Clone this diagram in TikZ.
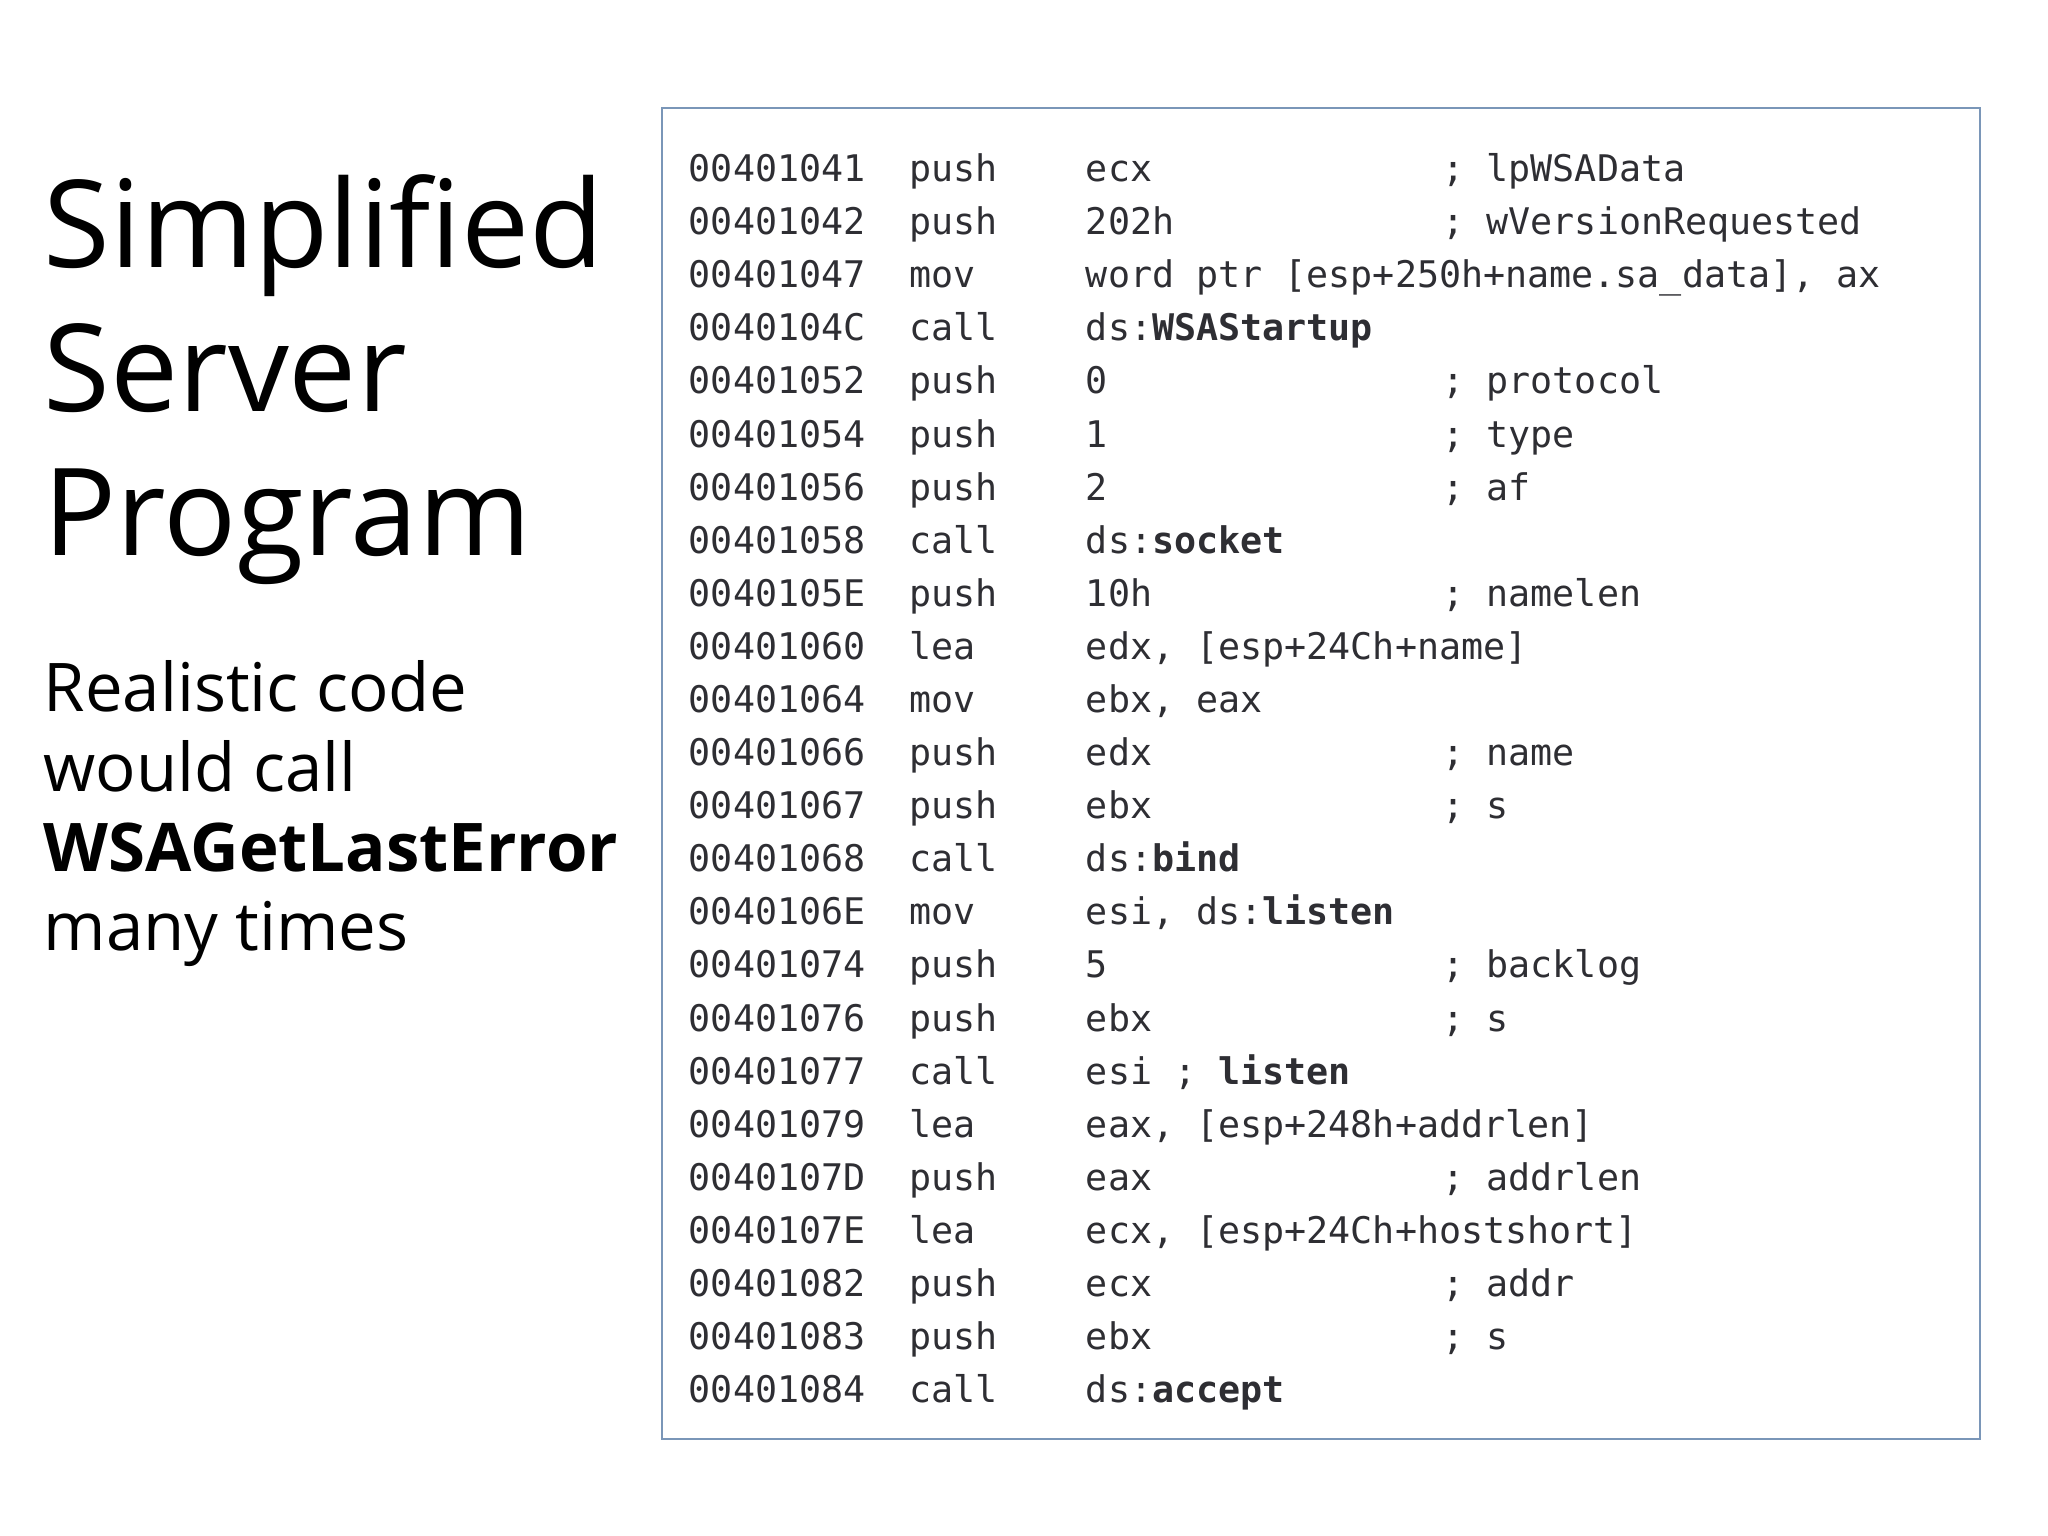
\documentclass[tikz,border=0pt]{standalone}
\usepackage{fontspec}
\setmainfont{Open Sans}
\newfontfamily\codefont{DejaVu Sans Mono}
\definecolor{codecol}{HTML}{2E2E33}
\definecolor{boxcol}{HTML}{7A96B8}
\begin{document}
\begin{tikzpicture}[x=0.5pt,y=-0.5pt,
  cl/.style={anchor=base west,inner sep=0pt,font=\codefont\fontsize{14.04pt}{15pt}\selectfont,text=codecol},
  tl/.style={anchor=base west,inner sep=0pt,font=\fontsize{46.5pt}{48pt}\selectfont},
  bl/.style={anchor=base west,inner sep=0pt,font=\fontsize{25.7pt}{27pt}\selectfont}]
\useasboundingbox[fill=white] (0,0) rectangle (1568,1176);
\draw[boxcol,line width=0.8pt] (507,83) rectangle (1516,1102);
\node[tl] (t1) at (33,205) {Simplified};
\node[tl] (t2) at (33,315) {Server};
\node[tl] (t3) at (33,425) {Program};
\node[bl] (b1) at (33,545) {Realistic code};
\node[bl] (b2) at (33,606) {would call};
\node[bl] (b3) at (33,667) {\textbf{WSAGetLastError}};
\node[bl] (b4) at (33,728) {many times};
\foreach \i/\a/\m/\o/\c in {
0/00401041/push/ecx/; lpWSAData,
1/00401042/push/202h/; wVersionRequested,
2/00401047/mov/{word ptr [esp+250h+name.sa\_data], ax}/,
3/0040104C/call/{ds:\textbf{WSAStartup}}/,
4/00401052/push/0/; protocol,
5/00401054/push/1/; type,
6/00401056/push/2/; af,
7/00401058/call/{ds:\textbf{socket}}/,
8/0040105E/push/10h/; namelen,
9/00401060/lea/{edx, [esp+24Ch+name]}/,
10/00401064/mov/{ebx, eax}/,
11/00401066/push/edx/; name,
12/00401067/push/ebx/; s,
13/00401068/call/{ds:\textbf{bind}}/,
14/0040106E/mov/{esi, ds:\textbf{listen}}/,
15/00401074/push/5/; backlog,
16/00401076/push/ebx/; s,
17/00401077/call/{esi ; \textbf{listen}}/,
18/00401079/lea/{eax, [esp+248h+addrlen]}/,
19/0040107D/push/eax/; addrlen,
20/0040107E/lea/{ecx, [esp+24Ch+hostshort]}/,
21/00401082/push/ecx/; addr,
22/00401083/push/ebx/; s,
23/00401084/call/{ds:\textbf{accept}}/}{
  \pgfmathsetmacro{\yy}{139+40.65*\i}
  \node[cl] (a\i) at (527,\yy) {\a};
  \node[cl] (m\i) at (696,\yy) {\m};
  \node[cl] (o\i) at (831,\yy) {\o};
  \node[cl] (c\i) at (1104,\yy) {\c};
}
\end{tikzpicture}
\end{document}
